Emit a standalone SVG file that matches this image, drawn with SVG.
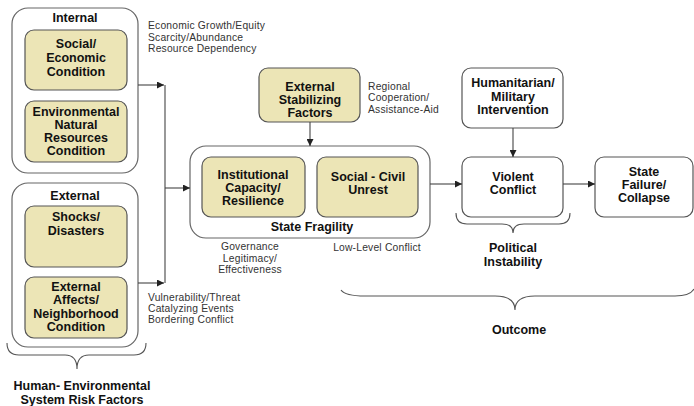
<svg xmlns="http://www.w3.org/2000/svg" width="694" height="406" viewBox="0 0 694 406">
<defs>
<marker id="ah" viewBox="0 0 10 10" refX="10" refY="5" markerWidth="7" markerHeight="7" markerUnits="userSpaceOnUse" orient="auto"><path d="M0,0 L10,5 L0,10 z" fill="#222"/></marker>
<style>
.outer{fill:#fff;stroke:#666;stroke-width:1.2}
.inner{fill:#ece5b6;stroke:#555;stroke-width:1.2}
.box{fill:#fff;stroke:#555;stroke-width:1.2}
.t{font-family:"Liberation Sans",Arial,sans-serif;font-weight:bold;font-size:12.5px;fill:#111;text-anchor:middle}
.s{font-family:"Liberation Sans",Arial,sans-serif;font-size:10.3px;letter-spacing:0.2px;fill:#333}
.c{text-anchor:middle}
.ln{fill:none;stroke:#444;stroke-width:1.1}
.br{fill:none;stroke:#555;stroke-width:1.1}
</style>
</defs>
<g id="internal">
<rect class="outer" x="12" y="8" width="126" height="165" rx="16"/>
<text class="t" x="75" y="22">Internal</text>
</g>
<g id="social-economic">
<rect class="inner" x="25" y="30" width="102" height="60" rx="9"/>
<text class="t" x="76" y="48">Social/</text>
<text class="t" x="76" y="62">Economic</text>
<text class="t" x="76" y="76">Condition</text>
</g>
<g id="environmental">
<rect class="inner" x="25" y="101" width="102" height="61" rx="9"/>
<text class="t" x="76" y="116">Environmental</text>
<text class="t" x="76" y="129">Natural</text>
<text class="t" x="76" y="142">Resources</text>
<text class="t" x="76" y="155">Condition</text>
</g>
<g id="external">
<rect class="outer" x="12" y="183" width="126" height="164" rx="16"/>
<text class="t" x="75" y="200">External</text>
</g>
<g id="shocks">
<rect class="inner" x="25" y="206" width="102" height="61" rx="9"/>
<text class="t" x="76" y="221">Shocks/</text>
<text class="t" x="76" y="235">Disasters</text>
</g>
<g id="external-affects">
<rect class="inner" x="25" y="277" width="102" height="61" rx="9"/>
<text class="t" x="76" y="291">External</text>
<text class="t" x="76" y="304">Affects/</text>
<text class="t" x="76" y="318">Neighborhood</text>
<text class="t" x="76" y="331">Condition</text>
</g>
<g id="stabilizing">
<rect class="inner" x="259" y="68" width="101" height="54" rx="9"/>
<text class="t" x="310" y="91">External</text>
<text class="t" x="310" y="104">Stabilizing</text>
<text class="t" x="310" y="117">Factors</text>
</g>
<g id="state-fragility">
<rect class="outer" x="190" y="146" width="240" height="92" rx="16"/>
<text class="t" x="312" y="231">State Fragility</text>
</g>
<g id="institutional">
<rect class="inner" x="202" y="157" width="103" height="60" rx="9"/>
<text class="t" x="253" y="179">Institutional</text>
<text class="t" x="253" y="192">Capacity/</text>
<text class="t" x="253" y="205">Resilience</text>
</g>
<g id="social-civil">
<rect class="inner" x="317" y="157" width="101" height="60" rx="9"/>
<text class="t" x="368" y="181">Social - Civil</text>
<text class="t" x="368" y="194">Unrest</text>
</g>
<g id="humanitarian">
<rect class="box" x="462" y="68" width="101" height="60" rx="9"/>
<text class="t" x="513" y="87">Humanitarian/</text>
<text class="t" x="513" y="101">Military</text>
<text class="t" x="513" y="114">Intervention</text>
</g>
<g id="violent-conflict">
<rect class="box" x="462" y="157" width="101" height="60" rx="9"/>
<text class="t" x="513" y="181">Violent</text>
<text class="t" x="513" y="194">Conflict</text>
</g>
<g id="state-failure">
<rect class="box" x="595" y="157" width="98" height="60" rx="9"/>
<text class="t" x="644" y="176">State</text>
<text class="t" x="644" y="189">Failure/</text>
<text class="t" x="644" y="202">Collapse</text>
</g>
<g id="connectors">
<path class="ln" d="M138,85 H164" marker-end="url(#ah)"/>
<path class="ln" d="M138,283 H164" marker-end="url(#ah)"/>
<path class="ln" d="M165,85 V283"/>
<path class="ln" d="M165,188 H190" marker-end="url(#ah)"/>
<path class="ln" d="M310,122 V146" marker-end="url(#ah)"/>
<path class="ln" d="M430,184 H462" marker-end="url(#ah)"/>
<path class="ln" d="M513,128 V157" marker-end="url(#ah)"/>
<path class="ln" d="M563,184 H595" marker-end="url(#ah)"/>
</g>
<g id="braces">
<path class="br" d="M7,343 Q7,355 19,355 L65,355 Q77,355 77,369 Q77,355 89,355 L134,355 Q146,355 146,343"/>
<path class="br" d="M456,213 Q456,224 467,224 L502,224 Q513,224 513,233 Q513,224 524,224 L559,224 Q570,224 570,213"/>
<path class="br" d="M341,290 Q345,296 365,296 L495,296 Q515,296 515,310 Q515,296 535,296 L675,296 Q690,296 694,289"/>
</g>
<g id="labels">
<text class="s" x="148" y="29">Economic Growth/Equity</text>
<text class="s" x="148" y="41">Scarcity/Abundance</text>
<text class="s" x="148" y="52">Resource Dependency</text>
<text class="s" x="148" y="301">Vulnerability/Threat</text>
<text class="s" x="148" y="312">Catalyzing Events</text>
<text class="s" x="148" y="323">Bordering Conflict</text>
<text class="s" x="368" y="90">Regional</text>
<text class="s" x="368" y="101">Cooperation/</text>
<text class="s" x="368" y="113">Assistance-Aid</text>
<text class="s c" x="250" y="250">Governance</text>
<text class="s c" x="250" y="262">Legitimacy/</text>
<text class="s c" x="250" y="273">Effectiveness</text>
<text class="s c" x="377" y="251">Low-Level Conflict</text>
<text class="t" x="513" y="252">Political</text>
<text class="t" x="513" y="266">Instability</text>
<text class="t" x="519" y="334">Outcome</text>
<text class="t" x="82" y="390">Human- Environmental</text>
<text class="t" x="82" y="404">System Risk Factors</text>
</g>
</svg>
